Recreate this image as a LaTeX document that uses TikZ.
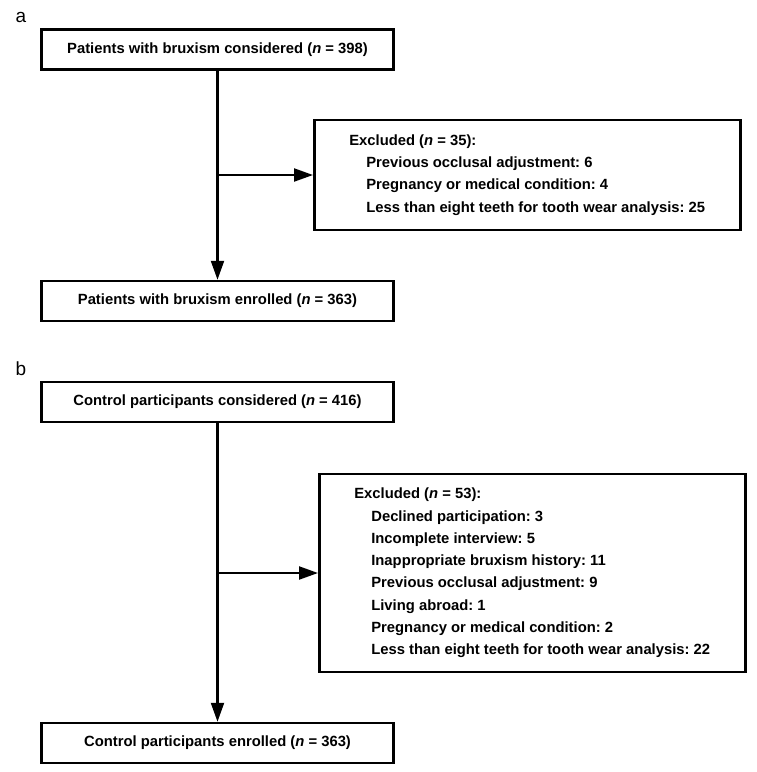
\documentclass[tikz,border=0pt]{standalone}
\usepackage{fontspec}
\setmainfont{Liberation Sans}
\usetikzlibrary{arrows.meta}

\newcommand{\subline}{\hspace*{17pt}}

\tikzset{
  box/.style={draw, line width=2.5pt, minimum width=352pt, minimum height=40pt,
    inner sep=0pt, font=\fontsize{14.8}{22.3}\selectfont\bfseries},
  exbox/.style={draw, line width=2.5pt, anchor=west, align=left, minimum width=426pt,
    inner sep=0pt, font=\fontsize{14.8}{22.3}\selectfont\bfseries},
  arr/.style={line width=2.2pt, -{Triangle[length=19pt,width=13pt]}},
  panel/.style={anchor=base, font=\fontsize{19}{19}\selectfont}
}

\begin{document}
\frenchspacing
\begin{tikzpicture}[x=1pt,y=-1pt]
\useasboundingbox (0,0) rectangle (757,772);
%\draw[gray] (0,0) grid[step=50pt] (757,772);

% panel a
\node[panel] (la) at (21,22.7) {a};
\node[box] (pc) at (217.5,49.5) {Patients with bruxism considered (\textit{n} = 398)};
\node[exbox, minimum height=110pt] (exa) at (313,175) {Excluded (\textit{n} = 35):\\
  \subline Previous occlusal adjustment: 6\\
  \subline Pregnancy or medical condition: 4\\
  \subline Less than eight teeth for tooth wear analysis: 25};
\node[box] (pe) at (217.5,301) {Patients with bruxism enrolled (\textit{n} = 363)};
\coordinate (ja) at (pc.south |- exa.west);
\draw[arr] (pc.south) -- (pe.north);
\draw[arr] (ja) -- (exa.west);

% panel b
\node[panel] (lb) at (21,375.7) {b};
\node[box] (cc) at (217.5,402) {Control participants considered (\textit{n} = 416)};
\node[exbox, minimum height=198pt] (exb) at (318,573) {Excluded (\textit{n} = 53):\\
  \subline Declined participation: 3\\
  \subline Incomplete interview: 5\\
  \subline Inappropriate bruxism history: 11\\
  \subline Previous occlusal adjustment: 9\\
  \subline Living abroad: 1\\
  \subline Pregnancy or medical condition: 2\\
  \subline Less than eight teeth for tooth wear analysis: 22};
\node[box] (ce) at (217.5,743) {Control participants enrolled (\textit{n} = 363)};
\coordinate (jb) at (cc.south |- exb.west);
\draw[arr] (cc.south) -- (ce.north);
\draw[arr] (jb) -- (exb.west);
\end{tikzpicture}
\end{document}
